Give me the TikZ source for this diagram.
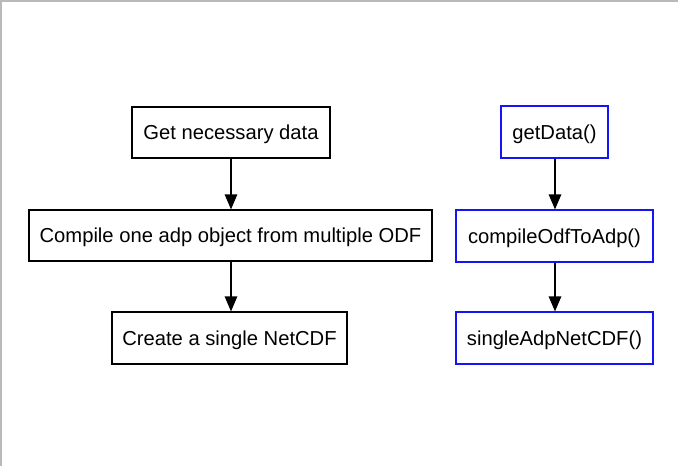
\documentclass[tikz,border=0pt]{standalone}
\usepackage{fontspec}
\setmainfont{Liberation Sans}
\usetikzlibrary{arrows.meta}
\definecolor{frame}{RGB}{185,185,185}
\definecolor{fnblue}{RGB}{20,20,245}
\tikzset{
  stepbox/.style={draw=black, line width=1.2pt, inner sep=0pt, align=center,
    text height=14.6pt, text depth=0pt,
    font=\fontsize{20.2}{24}\selectfont},
  fnbox/.style={stepbox, draw=fnblue},
  flow/.style={line width=1.3pt, -{Triangle[length=15pt,width=12.5pt]}}
}
\begin{document}
\begin{tikzpicture}[x=1pt,y=-1pt]
\useasboundingbox (0,0) rectangle (678,466);
\fill[white] (0,0) rectangle (678,466);
\draw[frame, line width=1.6pt] (0.8,466) -- (0.8,0.8) -- (678,0.8);
% left column
\node[stepbox, minimum width=198pt, minimum height=51pt] (a) at (231,132.5) {Get necessary data};
\node[stepbox, minimum width=403pt, minimum height=51pt] (b) at (230.5,235.5) {Compile one adp object from multiple ODF};
\node[stepbox, minimum width=235pt, minimum height=52pt] (c) at (229.5,338) {Create a single NetCDF};
\draw[flow] (a.south -| 231,0) -- (b.north -| 231,0);
\draw[flow] (b.south -| 231,0) -- (c.north -| 231,0);
% right column
\node[fnbox, minimum width=107pt, minimum height=52pt] (d) at (554.5,132) {getData()};
\node[fnbox, minimum width=197pt, minimum height=52pt] (e) at (554.5,236) {compileOdfToAdp()};
\node[fnbox, minimum width=197pt, minimum height=52pt] (f) at (554.5,338) {singleAdpNetCDF()};
\draw[flow] (d.south -| 555,0) -- (e.north -| 555,0);
\draw[flow] (e.south -| 555,0) -- (f.north -| 555,0);
\end{tikzpicture}
\end{document}
